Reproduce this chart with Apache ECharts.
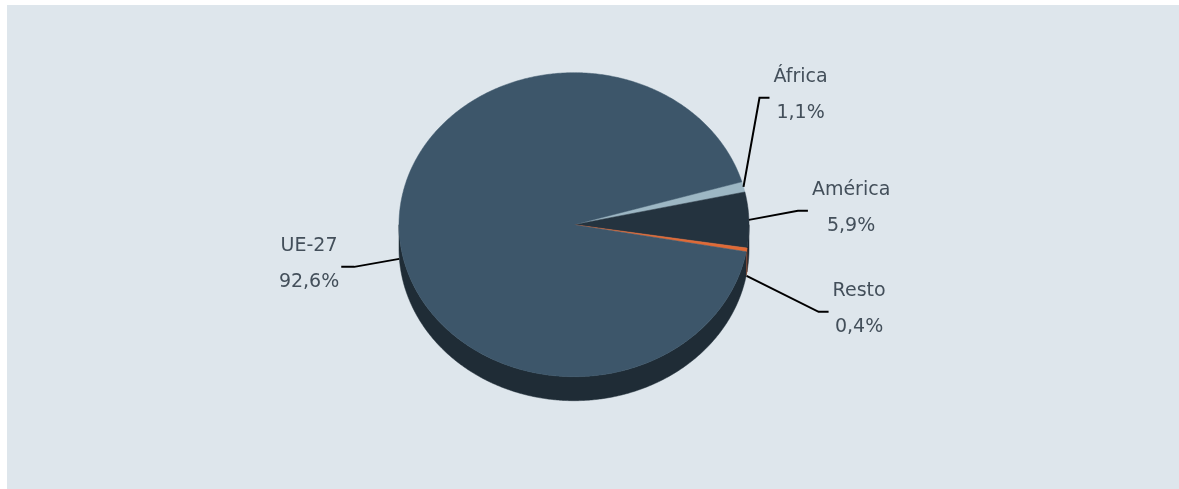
<!DOCTYPE html>
<html><head><meta charset="utf-8">
<script src="https://cdn.jsdelivr.net/npm/echarts@6/dist/echarts.min.js"></script>
<style>html,body{margin:0;padding:0;background:#fff}#c{width:1179px;height:489px}</style>
</head><body><div id="c"></div>
<script>
// ---- data ----
const categories = ['África', 'América', 'Resto', 'UE-27'];
const values = [1.1, 5.9, 0.4, 92.6];
const valueLabels = ['1,1%', '5,9%', '0,4%', '92,6%'];

// ---- styles ----
const topColors = ['#9db7c4', '#24333f', '#e06a36', '#3d566a'];
const sideColors = ['#7f97a3', '#1b2630', '#c85a2c', '#1f2c36'];
const labelLayout = [
  { dx: 16, dy: -89, run: 10 },
  { dx: 49, dy: -9, run: 10 },
  { dx: 72, dy: 36, run: 10 },
  { dx: -45, dy: 8, run: -13 }
];
const geo = { cx: 574, cy: 224.7, rx: 175, ry: 152, depth: 24, start: 16.4 };
const FONT = '19px "DejaVu Sans"';
const TEXT_COLOR = '#434f5a';

const total = values.reduce((a, b) => a + b, 0);
const cum = [];
values.reduce((acc, v, i) => { cum[i] = acc; return acc + v; }, 0);

const mctx = document.createElement('canvas').getContext('2d');
mctx.font = FONT;
function tw(s) { return mctx.measureText(s).width; }

function pt(deg, dz) {
  const t = deg * Math.PI / 180;
  return [geo.cx + geo.rx * Math.cos(t), geo.cy - geo.ry * Math.sin(t) + (dz || 0)];
}
function arc(from, to, dz) {
  const pts = [];
  const n = Math.max(2, Math.ceil(Math.abs(to - from) / 0.5));
  for (let k = 0; k <= n; k++) pts.push(pt(from + (to - from) * k / n, dz));
  return pts;
}

function renderItem(params, api) {
  const i = params.dataIndex;
  const v = api.value(1);
  const a0 = geo.start - 360 * cum[i] / total;
  const a1 = a0 - 360 * v / total;
  const children = [];
  // side faces (visible lower half)
  for (let k = -2; k <= 1; k++) {
    const lo = Math.max(a1, -180 + 360 * k);
    const hi = Math.min(a0, 0 + 360 * k);
    if (hi > lo) {
      const pts = arc(hi, lo, 0).concat(arc(lo, hi, geo.depth));
      children.push({ type: 'polygon', shape: { points: pts },
        style: { fill: sideColors[i], stroke: sideColors[i], lineWidth: 0.5 } });
    }
  }
  // top face
  const topPts = [[geo.cx, geo.cy]].concat(arc(a0, a1, 0));
  children.push({ type: 'polygon', z2: 10, shape: { points: topPts },
    style: { fill: topColors[i], stroke: topColors[i], lineWidth: 0.5 } });
  // label + leader
  const m = (a0 + a1) / 2;
  const lowerHalf = Math.sin(m * Math.PI / 180) < 0;
  const anchor = pt(m, lowerHalf ? geo.depth + 2 : 0);
  const L = labelLayout[i];
  const elbow = [anchor[0] + L.dx, anchor[1] + L.dy];
  const end = [elbow[0] + L.run, elbow[1]];
  children.push({ type: 'polyline', z2: 20, shape: { points: [anchor, elbow, end] },
    style: { stroke: '#000', lineWidth: 2, fill: null } });
  const w = Math.max(tw(categories[i]), tw(valueLabels[i]));
  const dir = L.run >= 0 ? 1 : -1;
  const gap = dir > 0 ? 4 : 2;
  children.push({ type: 'text', z2: 20,
    style: { x: end[0] + dir * (gap + w / 2), y: end[1] - 3,
      text: categories[i] + '\n' + valueLabels[i], font: FONT, fill: TEXT_COLOR,
      align: 'center', verticalAlign: 'middle', lineHeight: 36 } });
  return { type: 'group', children };
}

const chart = echarts.init(document.getElementById('c'), null, { renderer: 'canvas' });
chart.setOption({
  animation: false,
  backgroundColor: '#ffffff',
  graphic: [{ type: 'rect', z: -10, shape: { x: 7, y: 5, width: 1172, height: 484 },
    style: { fill: '#dee6ec' } }],
  series: [{
    type: 'custom',
    coordinateSystem: 'none',
    renderItem: renderItem,
    data: values.map((v, i) => [i, v])
  }]
});
</script>
</body></html>
